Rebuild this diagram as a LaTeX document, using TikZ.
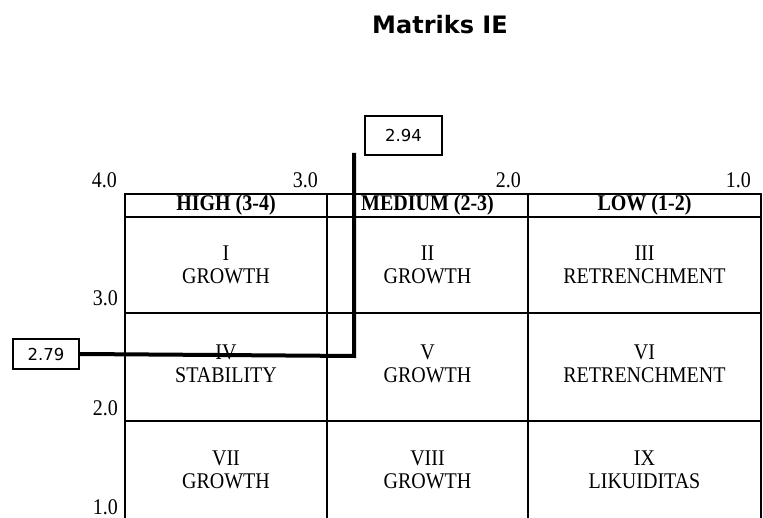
\documentclass[tikz,border=0pt]{standalone}
\usepackage{fontspec}
\setmainfont{Liberation Serif}
\newfontfamily\titlefont{DejaVu Sans}
\newcommand{\tallt}[1]{\scalebox{1}[1.12]{#1}}
\begin{document}
\begin{tikzpicture}[x=1pt,y=-1pt,
  gridline/.style={line width=1.3pt},
  celltxt/.style={align=center,font=\fontsize{20}{23}\selectfont,inner sep=0pt},
  hdr/.style={font=\bfseries\fontsize{20}{23}\selectfont,inner sep=0pt},
  axl/.style={font=\fontsize{20}{23}\selectfont,inner sep=0pt,anchor=base east},
  valbox/.style={draw,line width=2pt,font=\titlefont\fontsize{16.5}{18}\selectfont,inner sep=0pt},
  conn/.style={line width=4pt,line join=miter}
]
\useasboundingbox (0,0) rectangle (763,518);
\clip (0,0) rectangle (763,518);

% title
\node[font=\titlefont\bfseries\fontsize{24}{28}\selectfont,inner sep=0pt] (title) at (440,25) {Matriks IE};

% grid
\draw[gridline] (125,520) -- (125,194) -- (761,194) -- (761,520);
\draw[gridline] (125,217) -- (761,217);
\draw[gridline] (125,313) -- (761,313);
\draw[gridline] (125,421) -- (761,421);
\draw[gridline] (327,194) -- (327,520);
\draw[gridline] (528,194) -- (528,520);

% headers
\node[hdr] (h1) at (226,205.5) {\tallt{HIGH (3-4)}};
\node[hdr] (h2) at (427.5,205.5) {\tallt{MEDIUM (2-3)}};
\node[hdr] (h3) at (644.5,205.5) {\tallt{LOW (1-2)}};

% axis labels
\node[axl] (x4) at (117,188) {\tallt{4.0}};
\node[axl] (x3) at (318,188) {\tallt{3.0}};
\node[axl] (x2) at (521,188) {\tallt{2.0}};
\node[axl] (x1) at (751,188) {\tallt{1.0}};
\node[axl] (y3) at (118,306) {\tallt{3.0}};
\node[axl] (y2) at (118,415) {\tallt{2.0}};
\node[axl] (y1) at (118,514) {\tallt{1.0}};

% cells
\node[celltxt] (c1) at (226,264.5) {\tallt{I}\\\tallt{GROWTH}};
\node[celltxt] (c2) at (427.5,264.5) {\tallt{II}\\\tallt{GROWTH}};
\node[celltxt] (c3) at (644.5,264.5) {\tallt{III}\\\tallt{RETRENCHMENT}};
\node[celltxt] (c4) at (226,364) {\tallt{IV}\\\tallt{STABILITY}};
\node[celltxt] (c5) at (427.5,364) {\tallt{V}\\\tallt{GROWTH}};
\node[celltxt] (c6) at (644.5,364) {\tallt{VI}\\\tallt{RETRENCHMENT}};
\node[celltxt] (c7) at (226,469.5) {\tallt{VII}\\\tallt{GROWTH}};
\node[celltxt] (c8) at (427.5,469.5) {\tallt{VIII}\\\tallt{GROWTH}};
\node[celltxt] (c9) at (644.5,469.5) {\tallt{IX}\\\tallt{LIKUIDITAS}};

% value boxes
\node[valbox,minimum width=77pt,minimum height=39pt] (v294) at (403.5,135.5) {2.94};
\node[valbox,minimum width=66pt,minimum height=30pt] (v279) at (46,354) {2.79};

% connector
\coordinate (ctop) at (354,153);
\coordinate (corner) at (354,356);
\draw[conn] (ctop) -- (corner) -- (v279.east);
\end{tikzpicture}
\end{document}
